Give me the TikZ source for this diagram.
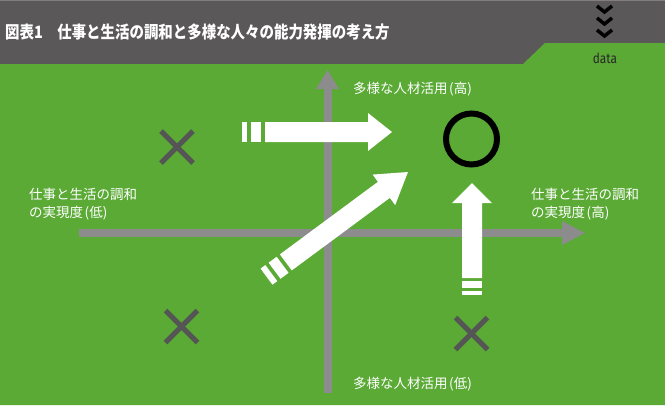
\documentclass[tikz,border=0pt]{standalone}
\usepackage{fontspec}
\newfontfamily\cjk{Noto Sans CJK JP}
\setsansfont{Fira Sans}
\definecolor{bggreen}{RGB}{90,170,53}
\definecolor{headgray}{RGB}{90,88,88}
\definecolor{axisgray}{RGB}{140,140,140}
\definecolor{crossgray}{RGB}{85,85,85}
\newcommand\fatarrowshape[8]{%
  \fill[white] (0,0) -- (-#1,#2) -- (-#1,#3) -- ({-#1-#4},#3) -- ({-#1-#4},-#3) -- (-#1,-#3) -- (-#1,-#2) -- cycle;
  \fill[white] ({-#1-#4-#5},#3) rectangle ({-#1-#4-#5-#6},-#3);
  \fill[white] ({-#1-#4-#5-#6-#7},#3) rectangle ({-#1-#4-#5-#6-#7-#8},-#3);
}
\newcommand\lpar{\hspace{1.5pt}(}
\newcommand\rpar{)}
\tikzset{
  axisline/.style={draw=axisgray, line width=8pt},
  axishead/.style={fill=axisgray},
  crossmark/.style={draw=crossgray, line width=5pt},
  axislabel/.style={text=white, inner sep=0pt, align=left, font=\cjk\fontsize{13.5}{18}\selectfont},
  chev/.style={draw=black, line width=3.5pt, miter limit=4},
}
\begin{document}
\begin{tikzpicture}[x=1pt,y=-1pt]
\useasboundingbox (0,0) rectangle (665,405);
% background
\fill[headgray] (0,0) rectangle (665,64);
\draw[draw={rgb,255:red,130;green,124;blue,124}, line width=1pt] (0,0.5) -- (665,0.5);
\fill[bggreen] (0,64) -- (523,64) -- (545,43) -- (665,43) -- (665,405) -- (0,405) -- cycle;
% title
\node[anchor=west, inner sep=0pt, text=white] (title) at (5,32)
  {\scalebox{0.85}[1]{\cjk\bfseries\fontsize{17}{19}\selectfont 図表1　仕事と生活の調和と多様な人々の能力発揮の考え方}};
% chevrons
\foreach \yy/\nm in {6/a,18/b,30/c}{
  \coordinate (chev\nm) at (604.5,\yy);
  \draw[chev] ([xshift=-7.5pt]chev\nm) -- ([yshift=-6pt]chev\nm) -- ([xshift=7.5pt]chev\nm);
}
\node[inner sep=0pt, text={rgb,255:red,40;green,40;blue,40}] (data) at (605,58)
  {\scalebox{0.85}[1]{\sffamily\fontsize{14}{16}\selectfont data}};
% axes
\coordinate (vbot) at (327.5,393);
\coordinate (vtop) at (327.5,88);
\draw[axisline] (vbot) -- (vtop);
\fill[axishead] (316,89) -- (339,89) -- (327.5,70) -- cycle;
\coordinate (hleft) at (79,233);
\coordinate (hright) at (563,233);
\draw[axisline] (hleft) -- (hright);
\fill[axishead] (562,221) -- (562,245) -- (585,233) -- cycle;
% labels
\node[axislabel, anchor=west] (ltop) at (353,89) {多様な人材活用\lpar 高\rpar};
\node[axislabel, anchor=west] (lbot) at (353,384) {多様な人材活用\lpar 低\rpar};
\node[axislabel, anchor=west] (lleft) at (29,204) {仕事と生活の調和\\の実現度\lpar 低\rpar};
\node[axislabel, anchor=west] (lright) at (531,204) {仕事と生活の調和\\の実現度\lpar 高\rpar};
% crosses
\foreach \cx/\cy/\nm in {177/147/a,181.5/326.5/b,471.5/333.5/c}{
  \coordinate (x\nm) at (\cx,\cy);
  \draw[crossmark] ([shift={(-16,-16)}]x\nm) -- ([shift={(16,16)}]x\nm);
  \draw[crossmark] ([shift={(-16,16)}]x\nm) -- ([shift={(16,-16)}]x\nm);
}
% circle
\node[draw=black, line width=6pt, circle, minimum size=51pt, inner sep=0pt] (goal) at (471.5,139) {};
% arrows
\begin{scope}[shift={(392,132)}]
  \fatarrowshape{24}{19}{10}{103}{4}{10}{4}{5}
\end{scope}
\begin{scope}[shift={(472,183)}, rotate=90]
  \fatarrowshape{20}{20}{10}{75}{3}{7}{3}{4}
\end{scope}
\begin{scope}[shift={(408,172)}, rotate=36.5]
  \fatarrowshape{30}{19}{10}{122}{4}{10}{4}{6}
\end{scope}
\end{tikzpicture}
\end{document}
